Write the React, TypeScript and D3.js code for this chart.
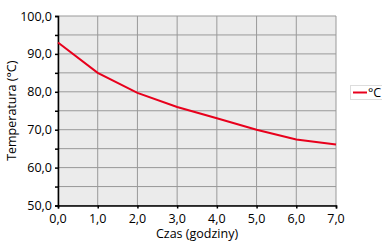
import { useEffect, useRef } from "react";
import * as d3 from "d3";

const hours = [0, 1, 2, 3, 4, 5, 6, 7];
const temps = [93, 85, 79.7, 76, 73, 70, 67.4, 66.1];
const yTicks = [50, 60, 70, 80, 90, 100];
const seriesName = "°C";

const App = () => {
  const container = useRef<SVGSVGElement>(null);

  useEffect(() => {
    const svg = d3.select(container.current);
    svg.selectAll("*").remove();

    const left = 58, right = 336, top = 16, bottom = 205.5;
    const font = "'Open Sans', sans-serif";

    const x = d3.scaleLinear().domain([0, 7]).range([left, right]);
    const y = d3.scaleLinear().domain([50, 100]).range([bottom, top]);

    svg.append("rect")
      .attr("x", left).attr("y", top)
      .attr("width", right - left).attr("height", bottom - top)
      .attr("fill", "#ebebeb");

    const minor = d3.range(50, 101, 5);
    svg.append("g").selectAll("line").data(minor).join("line")
      .attr("x1", left).attr("x2", right)
      .attr("y1", (d) => y(d)).attr("y2", (d) => y(d))
      .attr("stroke", "#999").attr("stroke-width", 1);
    svg.append("g").selectAll("line").data(hours).join("line")
      .attr("x1", (d) => x(d)).attr("x2", (d) => x(d))
      .attr("y1", top).attr("y2", bottom)
      .attr("stroke", "#999").attr("stroke-width", 1);

    // y axis
    const yAxis = svg.append("g").attr("transform", `translate(${left},0)`)
      .call(d3.axisLeft(y).tickValues(minor).tickSize(3).tickFormat(() => ""));
    yAxis.select(".domain").attr("stroke", "#000").attr("stroke-width", 1.5);
    yAxis.selectAll(".tick line").attr("stroke", "#000").attr("stroke-width", 1.5);
    svg.append("g").selectAll("text").data(yTicks).join("text")
      .attr("x", left - 6).attr("y", (d) => y(d) + 4.5)
      .attr("text-anchor", "end")
      .style("font-family", font).style("font-size", "12.5px")
      .text((d) => d3.format(".1f")(d).replace(".", ","));

    // x axis
    const xAxis = svg.append("g").attr("transform", `translate(0,${bottom})`)
      .call(d3.axisBottom(x).tickValues(hours).tickSize(3).tickFormat(() => ""));
    xAxis.select(".domain").attr("stroke", "#000").attr("stroke-width", 1.5);
    xAxis.selectAll(".tick line").attr("stroke", "#000").attr("stroke-width", 1.5);
    svg.append("g").selectAll("text").data(hours).join("text")
      .attr("x", (d) => x(d)).attr("y", bottom + 17)
      .attr("text-anchor", "middle")
      .style("font-family", font).style("font-size", "12.5px")
      .text((d) => d3.format(".1f")(d).replace(".", ","));

    const line = d3.line<number>()
      .x((d, i) => x(hours[i]))
      .y((d) => y(d));
    svg.append("path").datum(temps)
      .attr("d", line)
      .attr("fill", "none")
      .attr("stroke", "#e8001c")
      .attr("stroke-width", 2);

    svg.append("text")
      .attr("x", (left + right) / 2).attr("y", 238)
      .attr("text-anchor", "middle")
      .style("font-family", font).style("font-size", "12.5px")
      .text("Czas (godziny)");

    svg.append("text")
      .attr("transform", `translate(16,${(top + bottom) / 2}) rotate(-90)`)
      .attr("text-anchor", "middle")
      .style("font-family", font).style("font-size", "12.5px")
      .text("Temperatura (°C)");

    // legend
    const lg = svg.append("g").attr("transform", "translate(350,85)");
    lg.append("rect").attr("x", 0.5).attr("y", 0.5).attr("width", 40).attr("height", 14)
      .attr("fill", "#fff").attr("stroke", "#ddd");
    lg.append("line").attr("x1", 3).attr("x2", 17).attr("y1", 7.5).attr("y2", 7.5)
      .attr("stroke", "#e8001c").attr("stroke-width", 2);
    lg.append("text").attr("x", 18).attr("y", 12)
      .style("font-family", font).style("font-size", "12.5px")
      .text(seriesName);
  }, []);

  return (
    <svg ref={container} width={382} height={243}
      style={{ position: "absolute", left: 0, top: 0, background: "#fff" }} />
  );
};

export default App;
